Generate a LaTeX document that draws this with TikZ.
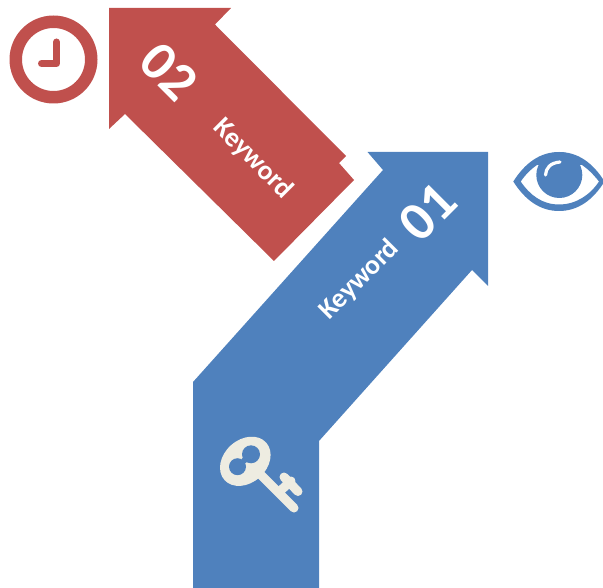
\documentclass[tikz,border=0pt]{standalone}
\usepackage{fontspec}
\setmainfont{Carlito}
\definecolor{redc}{HTML}{C0504D}
\definecolor{bluec}{HTML}{4F81BD}
\definecolor{keyc}{HTML}{EEECE1}
\tikzset{
  kw/.style={text=white,font=\bfseries\fontsize{27.5}{27.5}\selectfont,inner sep=0pt},
  num/.style={text=white,font=\bfseries\fontsize{55}{55}\selectfont,inner sep=0pt},
  hand/.style={draw=redc,line width=7pt,line cap=round,line join=round},
  keyline/.style={draw=keyc,line width=9pt,line cap=round}
}
\begin{document}
\begin{tikzpicture}[x=1pt,y=-1pt]
\useasboundingbox (0,0) rectangle (603,588);
% arrows
\fill[redc] (109,8) -- (231,8) -- (215,24.5) -- (346,156) -- (339,163) -- (354,180) -- (274,261) -- (125,114) -- (109,129) -- cycle;
\fill[bluec] (367.5,152) -- (488,152) -- (488,286) -- (472,270) -- (319,441) -- (319,588) -- (193,588) -- (193,382) -- (383,170) -- cycle;
% clock
\fill[redc,even odd rule] (53.5,59.5) circle[radius=44] (53.5,59.5) circle[radius=31.5];
\draw[hand] (56.5,42) -- (56.5,63.5) -- (41.5,63.5);
% eye
\begin{scope}
\clip (500,140) rectangle (603,220);
\fill[bluec,even odd rule]
  (513.3,181.5) .. controls (525,163) and (540,152) .. (559,152)
  .. controls (578,152) and (593,163) .. (604.5,181.5)
  .. controls (593,200) and (578,211) .. (559,211)
  .. controls (540,211) and (525,200) .. (513.3,181.5) -- cycle
  (520.7,181.5) .. controls (526,174) and (531,169) .. (537,165)
  -- (582,165) .. controls (588,169) and (593,174) .. (599,181.5)
  .. controls (590,195) and (576,204.5) .. (559,204.5)
  .. controls (542,204.5) and (530,195) .. (520.7,181.5) -- cycle;
\fill[bluec] (559.3,175) circle[radius=23];
\draw[white,line width=3.2pt,line cap=round] (545.5,175) .. controls (546,168) and (550,163) .. (560,162);
\end{scope}
% key
\begin{scope}
\draw[keyline] (261,475) -- (294,508);
\draw[keyline] (279,492) -- (291,481);
\draw[keyline] (284,477) -- (298,491.5);
\fill[keyc,rotate around={42:(245.3,461.3)}]
  (245.3,461.3) ellipse[x radius=28,y radius=21.5];
\fill[bluec] (237.5,466.7) circle[radius=8.5];
\fill[bluec] (251,454.3) circle[radius=9];
\fill[bluec] (244.2,460.5) circle[radius=3];
\end{scope}
% text
\node[num,rotate=-45] (n2) at (169,72) {02};
\node[kw,rotate=-45] (k2) at (253,159) {Keyword};
\node[num,rotate=45] (n1) at (428,212) {01};
\node[kw,rotate=45] (k1) at (359.5,280) {Keyword};
\end{tikzpicture}
\end{document}
